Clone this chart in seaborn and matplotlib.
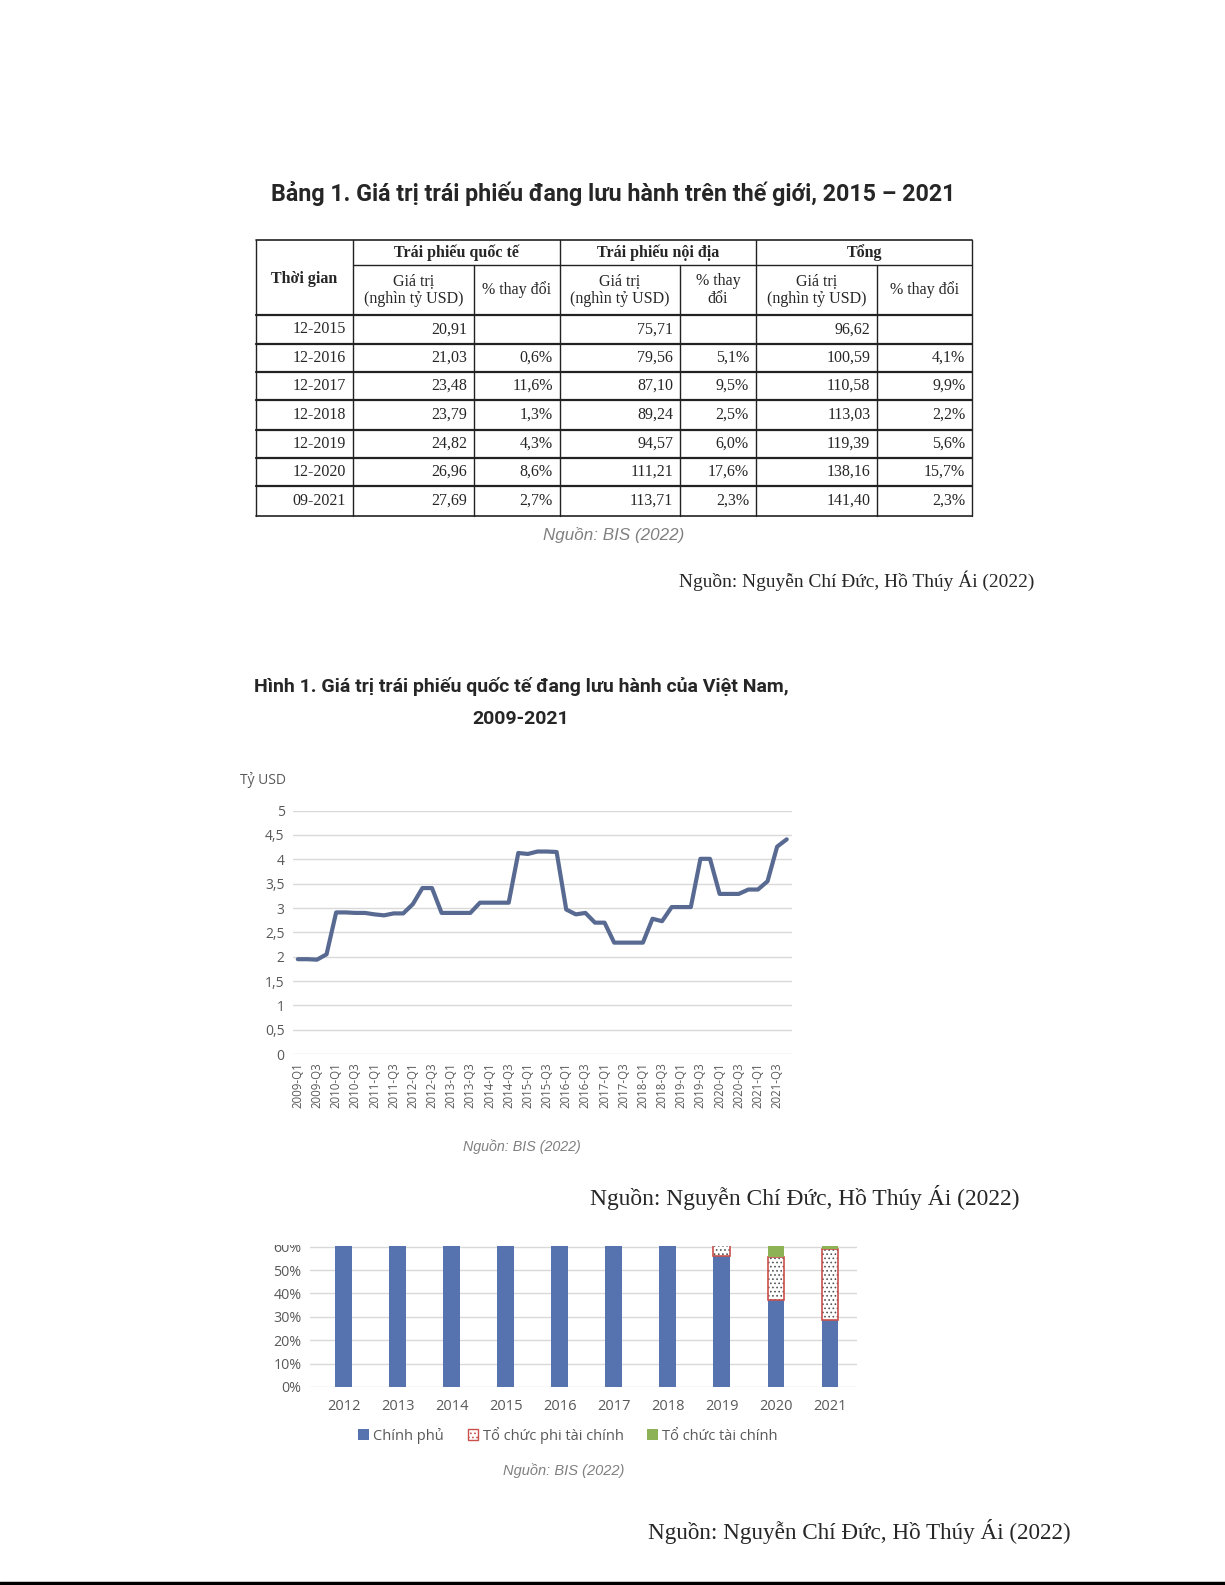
import numpy as np
import matplotlib
matplotlib.use("Agg")
import matplotlib.pyplot as plt
from matplotlib.patches import Patch, Rectangle
import seaborn as sns

W, H = 1225, 1585

# -------------------------
# Table 1 data
# -------------------------
periods = ["12-2015", "12-2016", "12-2017", "12-2018", "12-2019", "12-2020", "09-2021"]
intl_value = [20.91, 21.03, 23.48, 23.79, 24.82, 26.96, 27.69]
intl_change = [None, 0.6, 11.6, 1.3, 4.3, 8.6, 2.7]
dom_value = [75.71, 79.56, 87.10, 89.24, 94.57, 111.21, 113.71]
dom_change = [None, 5.1, 9.5, 2.5, 6.0, 17.6, 2.3]
total_value = [96.62, 100.59, 110.58, 113.03, 119.39, 138.16, 141.40]
total_change = [None, 4.1, 9.9, 2.2, 5.6, 15.7, 2.3]

# -------------------------
# Figure 1 data (bn USD, quarterly)
# -------------------------
quarters = [f"{y}-Q{q}" for y in range(2009, 2022) for q in range(1, 5)]
bond_value = [
    1.95, 1.95, 1.94, 2.05, 2.91, 2.91, 2.90, 2.90, 2.87, 2.85, 2.89, 2.89,
    3.08, 3.41, 3.41, 2.90, 2.90, 2.90, 2.90, 3.11, 3.11, 3.11, 3.11, 4.13,
    4.11, 4.16, 4.16, 4.15, 2.97, 2.87, 2.90, 2.70, 2.70, 2.29, 2.29, 2.29,
    2.29, 2.78, 2.73, 3.02, 3.02, 3.02, 4.01, 4.01, 3.29, 3.29, 3.29, 3.38,
    3.38, 3.55, 4.26, 4.41,
]

# -------------------------
# Issuer share data (%), upper part is cropped in the source
# -------------------------
years = ["2012", "2013", "2014", "2015", "2016", "2017", "2018", "2019", "2020", "2021"]
share_gov = [100, 100, 100, 100, 100, 100, 100, 56, 37, 28.5]
share_nonfin = [0, 0, 0, 0, 0, 0, 0, 38, 18.5, 30.5]
share_fin = [0, 0, 0, 0, 0, 0, 0, 6, 44.5, 41]
issuer_labels = ["Chính phủ", "Tổ chức phi tài chính", "Tổ chức tài chính"]

sns.set_theme(style="white")
plt.rcParams["font.family"] = ["Open Sans", "DejaVu Sans"]
plt.rcParams["hatch.linewidth"] = 0.7

SERIF = ["Liberation Serif", "DejaVu Serif"]
TITLE = ["Roboto", "DejaVu Sans"]
SANS_IT = ["Liberation Sans", "DejaVu Sans"]
GRAY = "#595959"
GRID = "#d9d9d9"
LINE = "#586a91"
BLUE = "#5673b0"
GREEN = "#8db255"
RED = "#c9504c"

fig = plt.figure(figsize=(W / 100, H / 100), dpi=100)
renderer = fig.canvas.get_renderer()


def rect(x0, y0, x1, y1):
    return [x0 / W, 1 - y1 / H, (x1 - x0) / W, (y1 - y0) / H]


def fit(txt, width):
    bb = txt.get_window_extent(renderer)
    txt.set_fontsize(txt.get_fontsize() * width / bb.width)


def num(v):
    return f"{v:.2f}".replace(".", ",")


def pct(v):
    return "" if v is None else f"{v:.1f}%".replace(".", ",")


page = fig.add_axes([0, 0, 1, 1])
page.set_xlim(0, W)
page.set_ylim(H, 0)
page.axis("off")

# -------------------------
# Table 1
# -------------------------
t = page.text(613, 194, "Bảng 1. Giá trị trái phiếu đang lưu hành trên thế giới, 2015 – 2021",
              ha="center", va="center", family=TITLE, weight="bold", color="#262626", fontsize=14)
fit(t, 684)

col_edges = [255.7, 352.7, 474, 560, 680, 756, 877.3, 972.3]
row_edges = [239.5, 264.8, 315.3, 343.6, 372, 400.2, 429.5, 457.8, 486.1, 515.5]
top, bot = row_edges[0], row_edges[-1]

for i, x in enumerate(col_edges):
    y0 = row_edges[1] if i in (2, 4, 6) else top
    page.plot([x, x], [y0, bot], color="#222222", lw=1.0)
page.plot([col_edges[1], col_edges[-1]], [row_edges[1]] * 2, color="#222222", lw=1.0)
for j, y in enumerate(row_edges):
    if j == 1:
        continue
    page.plot([col_edges[0], col_edges[-1]], [y, y], color="#222222", lw=1.6 if 0 < j < len(row_edges) - 1 else 1.2)

cell_fs = 11.5
ccx = [(a + b) / 2 for a, b in zip(col_edges[:-1], col_edges[1:])]
page.text(ccx[0], 279, "Thời gian", ha="center", va="center", family=SERIF, weight="bold", fontsize=cell_fs)
for k, name in enumerate(["Trái phiếu quốc tế", "Trái phiếu nội địa", "Tổng"]):
    xc = (col_edges[1 + 2 * k] + col_edges[3 + 2 * k]) / 2
    page.text(xc, 252.5, name, ha="center", va="center", family=SERIF, weight="bold", fontsize=cell_fs)

sub_heads = ["Giá trị\n(nghìn tỷ USD)", "% thay đổi", "Giá trị\n(nghìn tỷ USD)",
             "% thay\nđổi", "Giá trị\n(nghìn tỷ USD)", "% thay đổi"]
for k, name in enumerate(sub_heads):
    page.text(ccx[k + 1], 290, name, ha="center", va="center", family=SERIF,
              fontsize=cell_fs, linespacing=1.1)

columns = [periods,
           [num(v) for v in intl_value], [pct(v) for v in intl_change],
           [num(v) for v in dom_value], [pct(v) for v in dom_change],
           [num(v) for v in total_value], [pct(v) for v in total_change]]
for r in range(len(periods)):
    yc = (row_edges[r + 2] + row_edges[r + 3]) / 2
    for c, col in enumerate(columns):
        page.text(col_edges[c + 1] - 7, yc, col[r], ha="right", va="center",
                  family=SERIF, fontsize=cell_fs)

t = page.text(613.5, 535, "Nguồn: BIS (2022)", ha="center", va="center", family=SANS_IT,
              style="italic", color="#808080", fontsize=11)
fit(t, 141)
t = page.text(1034, 581, "Nguồn: Nguyễn Chí Đức, Hồ Thúy Ái (2022)", ha="right", va="center",
              family=SERIF, fontsize=14)
fit(t, 357)

# -------------------------
# Figure 1: line chart
# -------------------------
t = page.text(521, 687, "Hình 1. Giá trị trái phiếu quốc tế đang lưu hành của Việt Nam,",
              ha="center", va="center", family=TITLE, weight="bold", color="#262626", fontsize=13)
fit(t, 535)
page.text(521, 718.5, "2009-2021", ha="center", va="center", family=TITLE, weight="bold",
          color="#262626", fontsize=t.get_fontsize())
page.text(240.5, 780, "Tỷ USD", ha="left", va="center", color=GRAY, fontsize=10)

ax1 = fig.add_axes(rect(293, 810.6, 791.5, 1054.2))
sns.lineplot(x=np.arange(len(bond_value)), y=bond_value, ax=ax1, color=LINE, linewidth=3.0)
ax1.set_xlim(-0.5, len(bond_value) - 0.5)
ax1.set_ylim(0, 5)
yt = np.arange(0, 5.01, 0.5)
ax1.set_yticks(yt)
ax1.set_yticklabels([f"{v:g}".replace(".", ",") for v in yt])
ax1.set_xticks(np.arange(0, len(quarters), 2))
ax1.set_xticklabels(quarters[::2], rotation=90)
ax1.tick_params(axis="y", length=0, pad=6, labelsize=10, labelcolor=GRAY)
ax1.tick_params(axis="x", length=0, pad=6, labelsize=8.3, labelcolor=GRAY)
ax1.yaxis.grid(True, color=GRID, lw=1)
ax1.set_axisbelow(True)
ax1.set_xlabel("")
ax1.set_ylabel("")
for s in ax1.spines.values():
    s.set_visible(False)

t = page.text(521.5, 1147, "Nguồn: BIS (2022)", ha="center", va="center", family=SANS_IT,
              style="italic", color="#808080", fontsize=9)
fit(t, 119)
t = page.text(1019, 1197, "Nguồn: Nguyễn Chí Đức, Hồ Thúy Ái (2022)", ha="right", va="center",
              family=SERIF, fontsize=17)
fit(t, 430)

# -------------------------
# Issuer share bar chart (top cropped at ~60%)
# -------------------------
ax2 = fig.add_axes(rect(310, 1245.5, 857, 1387))
bw = 0.31
sns.barplot(x=years, y=share_gov, ax=ax2, color=BLUE, width=bw, errorbar=None,
            saturation=1, linewidth=0)
sns.barplot(x=years, y=share_nonfin, bottom=share_gov, ax=ax2, color="white", width=bw,
            errorbar=None, saturation=1, edgecolor="#555555", linewidth=0, hatch="....")
bottoms = [a + b for a, b in zip(share_gov, share_nonfin)]
ax2.bar(np.arange(len(years))[7:], share_nonfin[7:], bottom=share_gov[7:], width=bw,
        facecolor="none", edgecolor=RED, linewidth=1.2)
sns.barplot(x=years, y=share_fin, bottom=bottoms, ax=ax2, color=GREEN, width=bw,
            errorbar=None, saturation=1, linewidth=0)
ax2.set_xlim(-0.62, len(years) - 0.5)
ax2.set_ylim(0, 60.5)
ax2.set_yticks(np.arange(0, 61, 10))
ax2.set_yticklabels([f"{v}%" for v in range(0, 61, 10)])
ax2.tick_params(axis="y", length=0, pad=6, labelsize=10.3, labelcolor=GRAY)
ax2.tick_params(axis="x", length=0, pad=9, labelsize=10.5, labelcolor=GRAY)
ax2.yaxis.grid(True, color=GRID, lw=1)
ax2.set_axisbelow(True)
ax2.set_xlabel("")
ax2.set_ylabel("")
for s in ax2.spines.values():
    s.set_visible(False)

# crop the upper half of the "60%" label, like the source clipping
fig.add_artist(Rectangle((240 / W, 1 - 1245 / H), 80 / W, 20 / H, transform=fig.transFigure,
                         facecolor="white", edgecolor="none", zorder=10))

handles = [Patch(facecolor=BLUE, edgecolor="none"),
           Patch(facecolor="white", edgecolor=RED, hatch="...."),
           Patch(facecolor=GREEN, edgecolor="none")]
fig.legend(handles, issuer_labels, loc="center", bbox_to_anchor=(568 / W, 1 - 1435 / H), ncol=3,
           frameon=False, handlelength=0.75, handleheight=0.75, handletextpad=0.3,
           columnspacing=1.6, fontsize=10.5, labelcolor=GRAY)

t = page.text(564, 1470.5, "Nguồn: BIS (2022)", ha="center", va="center", family=SANS_IT,
              style="italic", color="#808080", fontsize=9)
fit(t, 122)
t = page.text(1071, 1532, "Nguồn: Nguyễn Chí Đức, Hồ Thúy Ái (2022)", ha="right", va="center",
              family=SERIF, fontsize=17)
fit(t, 423.5)

page.plot([0, W], [1582.5, 1582.5], color="black", lw=2.5)

fig.savefig("out.png", dpi=100, facecolor="white")
plt.close(fig)
